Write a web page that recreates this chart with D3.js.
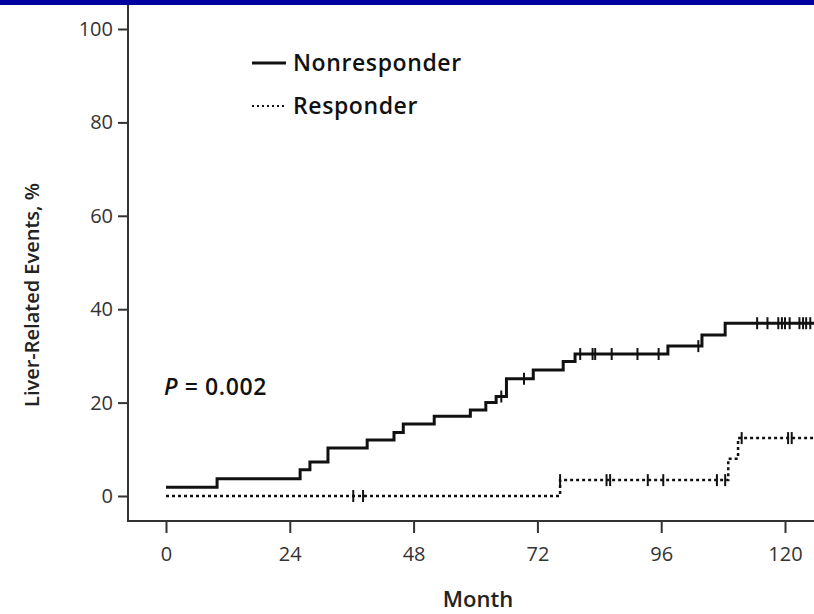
<!DOCTYPE html>
<html>
<head>
<meta charset="utf-8">
<script src="https://cdn.jsdelivr.net/npm/d3@7"></script>
<style>
  body { margin: 0; background: #fff; }
  text { font-family: "Open Sans", "Noto Sans", sans-serif; }
</style>
</head>
<body>
<svg id="chart"></svg>
<script>
const width = 814;
const height = 614;

// step curves: [month, percent] at each event
const nonresponderSteps = [
  [0, 1.9], [9.9, 3.7], [26, 5.6], [27.9, 7.3], [31.4, 10.3], [39, 12], [44.2, 13.6],
  [46, 15.4], [52, 17.1], [59, 18.4], [62, 20], [64, 21.3], [66, 25.1], [71.2, 27],
  [77, 28.8], [79.3, 30.4], [97.3, 32.1], [103.9, 34.5], [108.4, 37]
];
const nonresponderCensor = [65, 69.4, 80.3, 82.7, 83.2, 86.4, 91.4, 95.5, 103.2,
  114.6, 116.6, 118.7, 119.4, 120, 120.9, 122.8, 123.5, 124.1, 124.9];

const responderSteps = [[0, 0], [76.4, 3.4], [109, 8], [110.9, 12.4]];
const responderCensor = [36.3, 38.2, 76.4, 85.4, 86.1, 93.4, 96.4, 106.8, 108.4, 111.6, 120.6, 121.3];

const xTicks = [0, 24, 48, 72, 96, 120];
const yTicks = [0, 20, 40, 60, 80, 100];
const endMonth = 127;

const svg = d3.select('#chart')
  .attr('width', width)
  .attr('height', height);

// blue strip at the top
svg.append('rect')
  .attr('width', width)
  .attr('height', 5)
  .attr('fill', '#0000a0');

const x = d3.scaleLinear().domain([0, 120]).range([166, 785]);
const y = d3.scaleLinear().domain([0, 100]).range([496, 29]);
const axisX = 128;
const axisY = 521;

// axes
svg.append('line')
  .attr('x1', axisX).attr('x2', axisX)
  .attr('y1', 5).attr('y2', axisY + 1)
  .attr('stroke', '#333').attr('stroke-width', 2);
svg.append('line')
  .attr('x1', axisX - 1).attr('x2', width)
  .attr('y1', axisY).attr('y2', axisY)
  .attr('stroke', '#333').attr('stroke-width', 2);

const yAxis = d3.axisLeft(y).tickValues(yTicks).tickSize(10).tickPadding(5);
const yg = svg.append('g').attr('transform', `translate(${axisX},0)`).call(yAxis);
yg.select('.domain').remove();

const xAxis = d3.axisBottom(x).tickValues(xTicks).tickSize(12).tickPadding(14);
const xg = svg.append('g').attr('transform', `translate(0,${axisY})`).call(xAxis);
xg.select('.domain').remove();

svg.selectAll('.tick line').attr('stroke', '#333').attr('stroke-width', 2);
svg.selectAll('.tick text')
  .attr('font-size', 20)
  .attr('fill', '#333')
  .style('font-family', '"Open Sans", sans-serif');

svg.append('text')
  .attr('x', 478).attr('y', 607)
  .attr('text-anchor', 'middle')
  .attr('font-size', 22).attr('font-weight', 600)
  .attr('fill', '#222')
  .text('Month');

svg.append('text')
  .attr('transform', 'translate(39,295) rotate(-90)')
  .attr('text-anchor', 'middle')
  .attr('font-size', 20).attr('font-weight', 600)
  .attr('fill', '#222')
  .text('Liver-Related Events, %');

// curves
const stepLine = d3.line()
  .x(d => x(d[0]))
  .y(d => y(d[1]))
  .curve(d3.curveStepAfter);

function withEnd(steps) {
  return steps.concat([[endMonth, steps[steps.length - 1][1]]]);
}

function valueAt(steps, t) {
  let v = steps[0][1];
  steps.forEach(s => { if (s[0] <= t) v = s[1]; });
  return v;
}

const plot = svg.append('g');

plot.append('path')
  .datum(withEnd(responderSteps))
  .attr('d', stepLine)
  .attr('fill', 'none')
  .attr('stroke', '#111')
  .attr('stroke-width', 2.5)
  .attr('stroke-dasharray', '3,3');

plot.append('path')
  .datum(withEnd(nonresponderSteps))
  .attr('d', stepLine)
  .attr('fill', 'none')
  .attr('stroke', '#111')
  .attr('stroke-width', 3);

// censor ticks
plot.selectAll('line.cn')
  .data(nonresponderCensor)
  .enter().append('line')
  .attr('class', 'cn')
  .attr('x1', d => x(d)).attr('x2', d => x(d))
  .attr('y1', d => y(valueAt(nonresponderSteps, d)) - 6)
  .attr('y2', d => y(valueAt(nonresponderSteps, d)) + 6)
  .attr('stroke', '#111').attr('stroke-width', 2);

plot.selectAll('line.cr')
  .data(responderCensor)
  .enter().append('line')
  .attr('class', 'cr')
  .attr('x1', d => x(d)).attr('x2', d => x(d))
  .attr('y1', d => y(valueAt(responderSteps, d)) - 6)
  .attr('y2', d => y(valueAt(responderSteps, d)) + 6)
  .attr('stroke', '#111').attr('stroke-width', 2);

// legend
const legend = svg.append('g');
legend.append('line')
  .attr('x1', 252).attr('x2', 286).attr('y1', 63).attr('y2', 63)
  .attr('stroke', '#111').attr('stroke-width', 3);
legend.append('line')
  .attr('x1', 252).attr('x2', 286).attr('y1', 106).attr('y2', 106)
  .attr('stroke', '#111').attr('stroke-width', 2)
  .attr('stroke-dasharray', '2,3');
legend.append('text')
  .attr('x', 293).attr('y', 71)
  .attr('font-size', 23).attr('font-weight', 600).attr('fill', '#111')
  .attr('letter-spacing', 0.6)
  .text('Nonresponder');
legend.append('text')
  .attr('x', 293).attr('y', 114)
  .attr('font-size', 23).attr('font-weight', 600).attr('fill', '#111')
  .attr('letter-spacing', 0.6)
  .text('Responder');

// p value
const pText = svg.append('text')
  .attr('x', 164).attr('y', 395)
  .attr('font-size', 23).attr('font-weight', 600).attr('fill', '#111')
  .attr('letter-spacing', 0.6);
pText.append('tspan').attr('font-style', 'italic').text('P');
pText.append('tspan').text(' = 0.002');
</script>
</body>
</html>
